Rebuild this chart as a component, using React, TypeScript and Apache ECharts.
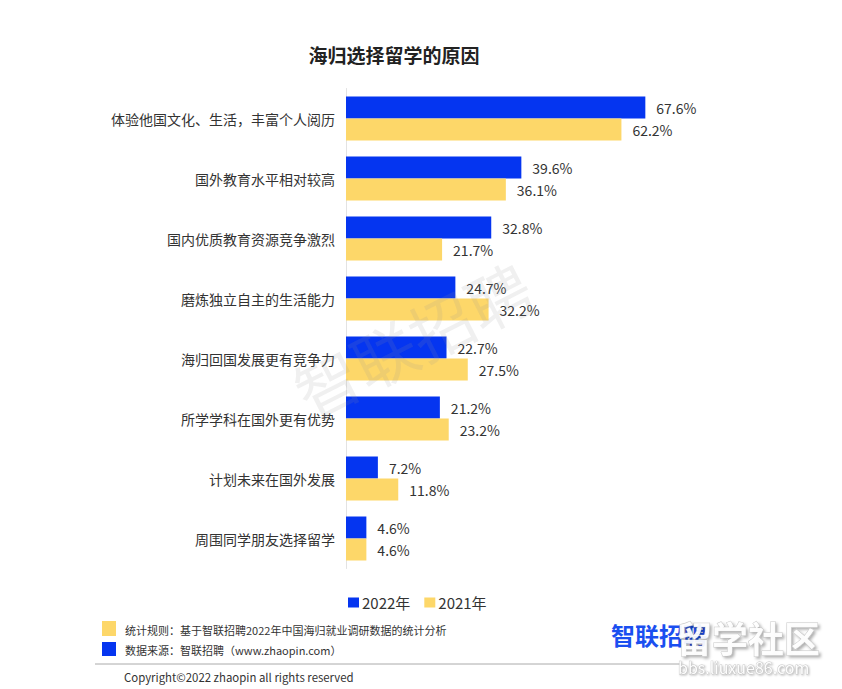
import React, { useEffect, useRef } from "react";
import * as echarts from "echarts";

const categories = [
  "体验他国文化、生活，丰富个人阅历",
  "国外教育水平相对较高",
  "国内优质教育资源竞争激烈",
  "磨炼独立自主的生活能力",
  "海归回国发展更有竞争力",
  "所学学科在国外更有优势",
  "计划未来在国外发展",
  "周围同学朋友选择留学",
];
const values2022 = [67.6, 39.6, 32.8, 24.7, 22.7, 21.2, 7.2, 4.6];
const values2021 = [62.2, 36.1, 21.7, 32.2, 27.5, 23.2, 11.8, 4.6];
const seriesNames = ["2022年", "2021年"];

const BLUE = "#0535f0";
const YELLOW = "#fdd769";
const FONT = "'Noto Sans CJK SC', 'Noto Sans', sans-serif";

export default function App() {
  const ref = useRef<HTMLDivElement>(null);
  useEffect(() => {
    if (!ref.current) return;
    const chart = echarts.init(ref.current, null, { renderer: "svg" });
    const label = {
      show: true,
      position: "right",
      distance: 11,
      color: "#333",
      fontSize: 14,
      fontFamily: FONT,
      formatter: (p: any) => Number(p.value).toFixed(1) + "%",
    };
    chart.setOption({
      animation: false,
      backgroundColor: "#fff",
      textStyle: { fontFamily: FONT },
      title: {
        text: "海归选择留学的原因",
        left: 389,
        textAlign: "center",
        top: 40,
        textStyle: { fontSize: 19, fontWeight: "bold", color: "#222", fontFamily: FONT },
      },
      legend: {
        left: 343,
        top: 590,
        itemWidth: 11,
        itemHeight: 10,
        itemGap: 14,
        icon: "rect",
        textStyle: { fontSize: 15, color: "#333", fontFamily: FONT, padding: [0, 0, 0, -2] },
        data: seriesNames,
      },
      grid: { left: 346, top: 88.5, width: 442.8, height: 480 },
      xAxis: {
        type: "value",
        min: 0,
        max: 100,
        show: false,
      },
      yAxis: {
        type: "category",
        inverse: true,
        data: categories,
        axisLine: { show: true, lineStyle: { color: "#e3e3e3", width: 1 } },
        axisTick: { show: false },
        axisLabel: { color: "#333", fontSize: 14, margin: 11, fontFamily: FONT },
      },
      series: [
        {
          name: seriesNames[0],
          type: "bar",
          data: values2022,
          barWidth: 22,
          barGap: "0%",
          itemStyle: { color: BLUE },
          label,
        },
        {
          name: seriesNames[1],
          type: "bar",
          data: values2021,
          barWidth: 22,
          barGap: "0%",
          itemStyle: { color: YELLOW },
          label,
        },
      ],
      graphic: [
        {
          type: "text",
          x: 412,
          y: 338,
          rotation: (27 * Math.PI) / 180,
          style: {
            text: "智联招聘",
            fontSize: 64,
            fontFamily: FONT,
            fill: "rgba(150,150,150,0.14)",
            align: "center",
            verticalAlign: "middle",
          },
          z: 100,
        },
        { type: "rect", shape: { x: 102, y: 621, width: 14, height: 15 }, style: { fill: YELLOW } },
        { type: "rect", shape: { x: 102, y: 642, width: 14, height: 14 }, style: { fill: BLUE } },
        {
          type: "text",
          x: 125,
          y: 630,
          style: {
            text: "统计规则：基于智联招聘2022年中国海归就业调研数据的统计分析",
            fontSize: 11,
            fontFamily: FONT,
            fill: "#333",
            verticalAlign: "middle",
          },
        },
        {
          type: "text",
          x: 125,
          y: 650,
          style: {
            text: "数据来源：智联招聘（www.zhaopin.com）",
            fontSize: 11,
            fontFamily: FONT,
            fill: "#333",
            verticalAlign: "middle",
          },
        },
        {
          type: "line",
          shape: { x1: 95, y1: 664, x2: 680, y2: 664 },
          style: { stroke: "#aaa", lineWidth: 1 },
        },
        {
          type: "text",
          x: 124,
          y: 677,
          style: {
            text: "Copyright©2022 zhaopin all rights reserved",
            fontSize: 11.4,
            fontFamily: FONT,
            fill: "#333",
            verticalAlign: "middle",
          },
        },
        {
          type: "text",
          x: 611,
          y: 634,
          style: {
            text: "智联招聘",
            fontSize: 24,
            fontWeight: "bold",
            fontFamily: FONT,
            fill: "#1a4ff0",
            verticalAlign: "middle",
          },
        },
        {
          type: "text",
          x: 676,
          y: 637,
          style: {
            text: "留学社区",
            fontSize: 36,
            fontWeight: "bold",
            fontFamily: FONT,
            fill: "rgba(255,255,255,0.92)",
            stroke: "rgba(150,150,150,0.5)",
            lineWidth: 1,
            verticalAlign: "middle",
            textShadowColor: "rgba(0,0,0,0.35)",
            textShadowBlur: 3,
            textShadowOffsetX: 2,
            textShadowOffsetY: 2,
          },
          z: 100,
        },
        {
          type: "text",
          x: 678,
          y: 667,
          style: {
            text: "bbs.liuxue86.com",
            fontSize: 16,
            fontFamily: FONT,
            fill: "rgba(255,255,255,0.95)",
            stroke: "rgba(150,150,150,0.5)",
            lineWidth: 0.8,
            verticalAlign: "middle",
            textShadowColor: "rgba(0,0,0,0.35)",
            textShadowBlur: 2,
            textShadowOffsetX: 1,
            textShadowOffsetY: 1,
          },
          z: 100,
        },
      ],
    });
    return () => chart.dispose();
  }, []);
  return (
    <div
      ref={ref}
      style={{ position: "fixed", left: 0, top: 0, width: 842, height: 689 }}
    />
  );
}
